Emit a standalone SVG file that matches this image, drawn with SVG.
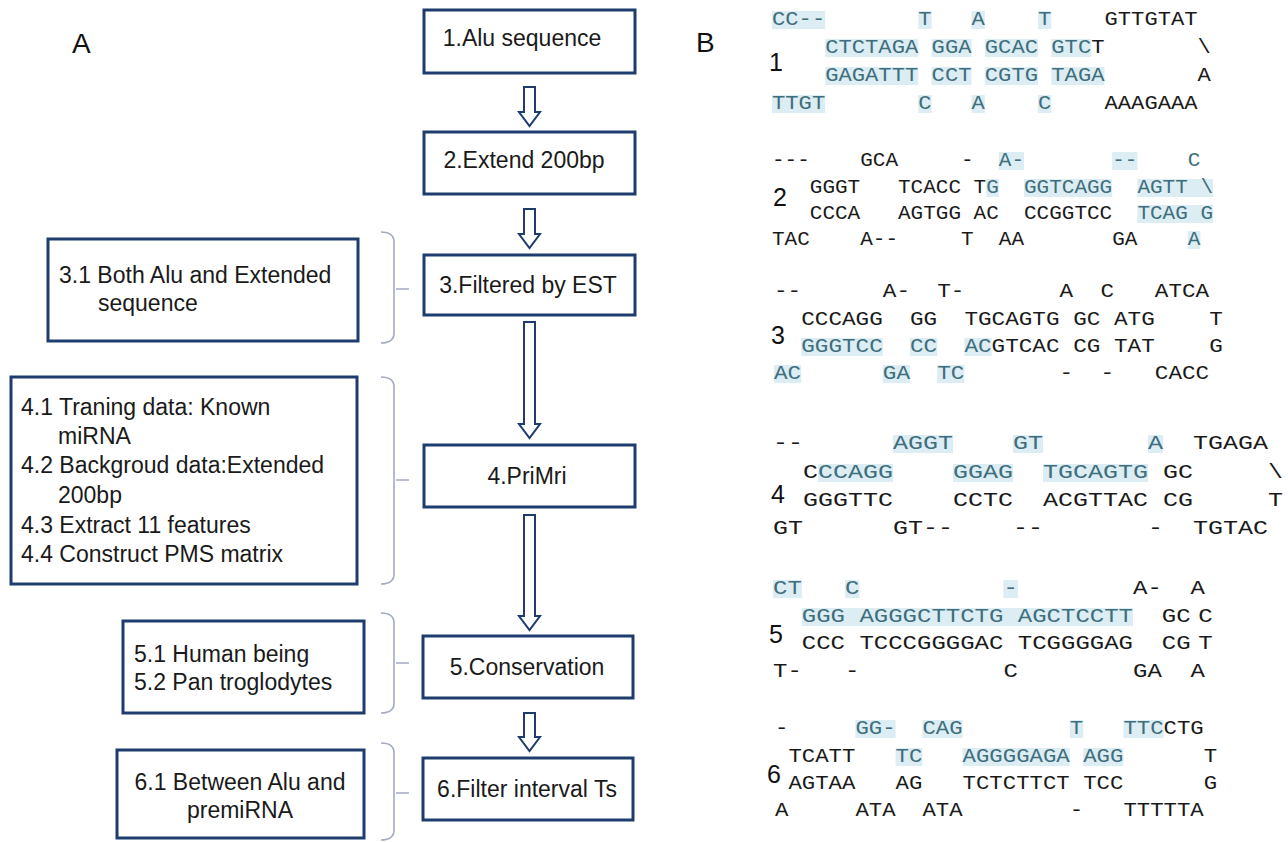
<svg xmlns="http://www.w3.org/2000/svg" width="1288" height="842" viewBox="0 0 1288 842">
<style>
.box{fill:#fff;stroke:#1f3c6e;stroke-width:3}
.lbl{font-family:"Liberation Sans",Arial,sans-serif;font-size:23px;fill:#1a1a1a}
.mid{text-anchor:middle}
.big{font-family:"Liberation Sans",Arial,sans-serif;font-size:28px;fill:#111}
.arr{fill:#fff;stroke:#1f3c6e;stroke-width:2}
.brk{fill:none;stroke:#a3abc2;stroke-width:1.6}
.seq text{font-family:"Liberation Mono","Courier New",monospace;font-size:21px;fill:#1a1a1a}
.seq .t{fill:#3f6e7c}
.hl{fill:#dcedf3}
.num{font-family:"Liberation Sans",Arial,sans-serif;font-size:25px;fill:#111}
</style>
<rect width="1288" height="842" fill="#fff"/>
<text class="big" x="72" y="53">A</text>
<text class="big" x="696" y="52">B</text>

<g id="connectors">
<path class="arr" d="M524,87H535V112H540L529.5,126L519,112H524Z"/>
<path class="arr" d="M524,209H535V234H540L529.5,248L519,234H524Z"/>
<path class="arr" d="M524,322H535V424H540L529.5,438L519,424H524Z"/>
<path class="arr" d="M524,515H535V616H540L529.5,630L519,616H524Z"/>
<path class="arr" d="M524,713H535V737H540L529.5,751L519,737H524Z"/>
<path class="brk" d="M381,232Q394,232 394,242V333Q394,343 381,343M396,289H409"/>
<path class="brk" d="M381,377Q394,377 394,387V574Q394,584 381,584M396,480H409"/>
<path class="brk" d="M381,613Q394,613 394,623V703Q394,713 381,713M396,663H409"/>
<path class="brk" d="M381,743Q394,743 394,753V830Q394,840 381,840M396,793H409"/>
</g>

<g id="n1"><rect class="box" x="424" y="10" width="211" height="63"/><text class="lbl mid" x="522" y="46">1.Alu sequence</text></g>
<g id="n2"><rect class="box" x="424" y="132" width="211" height="62"/><text class="lbl mid" x="524" y="168">2.Extend 200bp</text></g>
<g id="n3"><rect class="box" x="424" y="255" width="211" height="60"/><text class="lbl mid" x="528" y="293">3.Filtered by EST</text></g>
<g id="n4"><rect class="box" x="424" y="445" width="211" height="62"/><text class="lbl mid" x="527" y="484">4.PriMri</text></g>
<g id="n5"><rect class="box" x="423" y="636" width="210" height="62"/><text class="lbl mid" x="527" y="675">5.Conservation</text></g>
<g id="n6"><rect class="box" x="423" y="758" width="210" height="62"/><text class="lbl mid" x="527" y="797">6.Filter interval Ts</text></g>

<g id="n31"><rect class="box" x="48" y="239" width="310" height="102"/>
<text class="lbl" x="59" y="283">3.1 Both Alu and Extended</text>
<text class="lbl" x="98" y="311">sequence</text></g>
<g id="n41"><rect class="box" x="11" y="377" width="346" height="207"/>
<text class="lbl" x="21" y="415">4.1 Traning data: Known</text>
<text class="lbl" x="58" y="444">miRNA</text>
<text class="lbl" x="21" y="473">4.2 Backgroud data:Extended</text>
<text class="lbl" x="58" y="503">200bp</text>
<text class="lbl" x="21" y="533">4.3 Extract 11 features</text>
<text class="lbl" x="21" y="562">4.4 Construct PMS matrix</text></g>
<g id="n51"><rect class="box" x="123" y="621" width="241" height="92"/>
<text class="lbl" x="134" y="662">5.1 Human being</text>
<text class="lbl" x="134" y="690">5.2 Pan troglodytes</text></g>
<g id="n61"><rect class="box" x="117" y="750" width="247" height="88"/>
<text class="lbl mid" x="240" y="790">6.1 Between Alu and</text>
<text class="lbl mid" x="240" y="818">premiRNA</text></g>

<g id="nums">
<text class="num" x="769" y="71">1</text>
<text class="num" x="773" y="206">2</text>
<text class="num" x="771" y="344">3</text>
<text class="num" x="771" y="503">4</text>
<text class="num" x="769" y="643">5</text>
<text class="num" x="767" y="783">6</text>
</g>

<g id="s1" class="seq" transform="translate(772,0) scale(1.0556,1)">
<rect class="hl" x="0" y="11" width="50.4" height="18"/><rect class="hl" x="138.6" y="11" width="12.6" height="18"/><rect class="hl" x="189" y="11" width="12.6" height="18"/><rect class="hl" x="252" y="11" width="12.6" height="18"/>
<rect class="hl" x="50.4" y="39" width="88.2" height="18"/><rect class="hl" x="151.2" y="39" width="37.8" height="18"/><rect class="hl" x="201.6" y="39" width="50.4" height="18"/><rect class="hl" x="264.6" y="39" width="37.8" height="18"/>
<rect class="hl" x="50.4" y="67" width="88.2" height="18"/><rect class="hl" x="151.2" y="67" width="37.8" height="18"/><rect class="hl" x="201.6" y="67" width="50.4" height="18"/><rect class="hl" x="264.6" y="67" width="50.4" height="18"/>
<rect class="hl" x="0" y="95" width="50.4" height="18"/><rect class="hl" x="138.6" y="95" width="12.6" height="18"/><rect class="hl" x="189" y="95" width="12.6" height="18"/><rect class="hl" x="252" y="95" width="12.6" height="18"/>
<text class="t" x="0" y="25">CC--</text><text class="t" x="138.6" y="25">T</text><text class="t" x="189" y="25">A</text><text class="t" x="252" y="25">T</text><text x="315" y="25">GTTGTAT</text>
<text class="t" x="50.4" y="53">CTCTAGA</text><text class="t" x="151.2" y="53">GGA</text><text class="t" x="201.6" y="53">GCAC</text><text class="t" x="264.6" y="53">GTC</text><text x="302.4" y="53">T</text><text x="403.2" y="53">\</text>
<text class="t" x="50.4" y="81">GAGATTT</text><text class="t" x="151.2" y="81">CCT</text><text class="t" x="201.6" y="81">CGTG</text><text class="t" x="264.6" y="81">TAGA</text><text x="403.2" y="81">A</text>
<text class="t" x="0" y="109">TTGT</text><text class="t" x="138.6" y="109">C</text><text class="t" x="189" y="109">A</text><text class="t" x="252" y="109">C</text><text x="315" y="109">AAAGAAA</text>
</g>

<g id="s2" class="seq" transform="translate(772,0)">
<rect class="hl" x="226.8" y="152" width="25.2" height="18"/><rect class="hl" x="340.2" y="152" width="25.2" height="18"/>
<rect class="hl" x="214.2" y="179" width="12.6" height="18"/><rect class="hl" x="252" y="179" width="88.2" height="18"/><rect class="hl" x="365.4" y="179" width="75.6" height="18"/>
<rect class="hl" x="365.4" y="205" width="75.6" height="18"/>
<rect class="hl" x="415.8" y="231" width="12.6" height="18"/>
<text x="0" y="166">---</text><text x="88.2" y="166">GCA</text><text x="189" y="166">-</text><text class="t" x="226.8" y="166">A-</text><text class="t" x="340.2" y="166">--</text><text class="t" x="415.8" y="166">C</text>
<text x="37.8" y="193">GGGT</text><text x="126" y="193">TCACC</text><text x="201.6" y="193">T</text><text class="t" x="214.2" y="193">G</text><text class="t" x="252" y="193">GGTCAGG</text><text class="t" x="365.4" y="193">AGTT</text><text class="t" x="428.4" y="193">\</text>
<text x="37.8" y="219">CCCA</text><text x="126" y="219">AGTGG</text><text x="201.6" y="219">AC</text><text x="252" y="219">CCGGTCC</text><text class="t" x="365.4" y="219">TCAG</text><text class="t" x="428.4" y="219">G</text>
<text x="0" y="245">TAC</text><text x="88.2" y="245">A--</text><text x="189" y="245">T</text><text x="226.8" y="245">AA</text><text x="340.2" y="245">GA</text><text class="t" x="415.8" y="245">A</text>
</g>

<g id="s3" class="seq" transform="translate(774,0) scale(1.0794,1)">
<rect class="hl" x="25.2" y="338" width="75.6" height="18"/><rect class="hl" x="126" y="338" width="25.2" height="18"/><rect class="hl" x="176.4" y="338" width="25.2" height="18"/>
<rect class="hl" x="0" y="365" width="25.2" height="18"/><rect class="hl" x="100.8" y="365" width="25.2" height="18"/><rect class="hl" x="151.2" y="365" width="25.2" height="18"/>
<text x="0" y="297">--</text><text x="100.8" y="297">A-</text><text x="151.2" y="297">T-</text><text x="264.6" y="297">A</text><text x="302.4" y="297">C</text><text x="352.8" y="297">ATCA</text>
<text x="25.2" y="325">CCCAGG</text><text x="126" y="325">GG</text><text x="176.4" y="325">TGCAGTG</text><text x="277.2" y="325">GC</text><text x="315" y="325">ATG</text><text x="403.2" y="325">T</text>
<text class="t" x="25.2" y="352">GGGTCC</text><text class="t" x="126" y="352">CC</text><text class="t" x="176.4" y="352">AC</text><text x="201.6" y="352">GTCAC</text><text x="277.2" y="352">CG</text><text x="315" y="352">TAT</text><text x="403.2" y="352">G</text>
<text class="t" x="0" y="379">AC</text><text class="t" x="100.8" y="379">GA</text><text class="t" x="151.2" y="379">TC</text><text x="264.6" y="379">-</text><text x="302.4" y="379">-</text><text x="352.8" y="379">CACC</text>
</g>

<g id="s4" class="seq" transform="translate(773,0) scale(1.1905,1)">
<rect class="hl" x="100.8" y="435" width="50.4" height="18"/><rect class="hl" x="201.6" y="435" width="25.2" height="18"/><rect class="hl" x="315" y="435" width="12.6" height="18"/>
<rect class="hl" x="37.8" y="464" width="63" height="18"/><rect class="hl" x="151.2" y="464" width="50.4" height="18"/><rect class="hl" x="226.8" y="464" width="88.2" height="18"/>
<text x="0" y="449">--</text><text class="t" x="100.8" y="449">AGGT</text><text class="t" x="201.6" y="449">GT</text><text class="t" x="315" y="449">A</text><text x="352.8" y="449">TGAGA</text>
<text x="25.2" y="478">C</text><text class="t" x="37.8" y="478">CCAGG</text><text class="t" x="151.2" y="478">GGAG</text><text class="t" x="226.8" y="478">TGCAGTG</text><text x="327.6" y="478">GC</text><text x="415.8" y="478">\</text>
<text x="25.2" y="506">GGGTTC</text><text x="151.2" y="506">CCTC</text><text x="226.8" y="506">ACGTTAC</text><text x="327.6" y="506">CG</text><text x="415.8" y="506">T</text>
<text x="0" y="534">GT</text><text x="100.8" y="534">GT--</text><text x="201.6" y="534">--</text><text x="315" y="534">-</text><text x="352.8" y="534">TGTAC</text>
</g>

<g id="s5" class="seq" transform="translate(773,0) scale(1.1429,1)">
<rect class="hl" x="0" y="580" width="25.2" height="18"/><rect class="hl" x="63" y="580" width="12.6" height="18"/><rect class="hl" x="201.6" y="580" width="12.6" height="18"/>
<rect class="hl" x="25.2" y="608" width="289.8" height="18"/>
<text class="t" x="0" y="594">CT</text><text class="t" x="63" y="594">C</text><text class="t" x="201.6" y="594">-</text><text x="315" y="594">A-</text><text x="365.4" y="594">A</text>
<text class="t" x="25.2" y="622">GGG</text><text class="t" x="75.6" y="622">AGGGCTTCTG</text><text class="t" x="214.2" y="622">AGCTCCTT</text><text x="340.2" y="622">GC</text><text x="372" y="622">C</text>
<text x="25.2" y="649">CCC</text><text x="75.6" y="649">TCCCGGGGAC</text><text x="214.2" y="649">TCGGGGAG</text><text x="340.2" y="649">CG</text><text x="372" y="649">T</text>
<text x="0" y="677">T-</text><text x="63" y="677">-</text><text x="201.6" y="677">C</text><text x="315" y="677">GA</text><text x="365.4" y="677">A</text>
</g>

<g id="s6" class="seq" transform="translate(775,0) scale(1.0635,1)">
<rect class="hl" x="75.6" y="720" width="37.8" height="18"/><rect class="hl" x="138.6" y="720" width="37.8" height="18"/><rect class="hl" x="277.2" y="720" width="12.6" height="18"/><rect class="hl" x="327.6" y="720" width="37.8" height="18"/>
<rect class="hl" x="113.4" y="748" width="25.2" height="18"/><rect class="hl" x="176.4" y="748" width="100.8" height="18"/><rect class="hl" x="289.8" y="748" width="37.8" height="18"/>
<text x="0" y="734">-</text><text class="t" x="75.6" y="734">GG-</text><text class="t" x="138.6" y="734">CAG</text><text class="t" x="277.2" y="734">T</text><text class="t" x="327.6" y="734">TTC</text><text x="365.4" y="734">CTG</text>
<text x="12.6" y="762">TCATT</text><text class="t" x="113.4" y="762">TC</text><text class="t" x="176.4" y="762">AGGGGAGA</text><text class="t" x="289.8" y="762">AGG</text><text x="403.2" y="762">T</text>
<text x="12.6" y="789">AGTAA</text><text x="113.4" y="789">AG</text><text x="176.4" y="789">TCTCTTCT</text><text x="289.8" y="789">TCC</text><text x="403.2" y="789">G</text>
<text x="0" y="816">A</text><text x="75.6" y="816">ATA</text><text x="138.6" y="816">ATA</text><text x="277.2" y="816">-</text><text x="327.6" y="816">TTTTTA</text>
</g>
</svg>
